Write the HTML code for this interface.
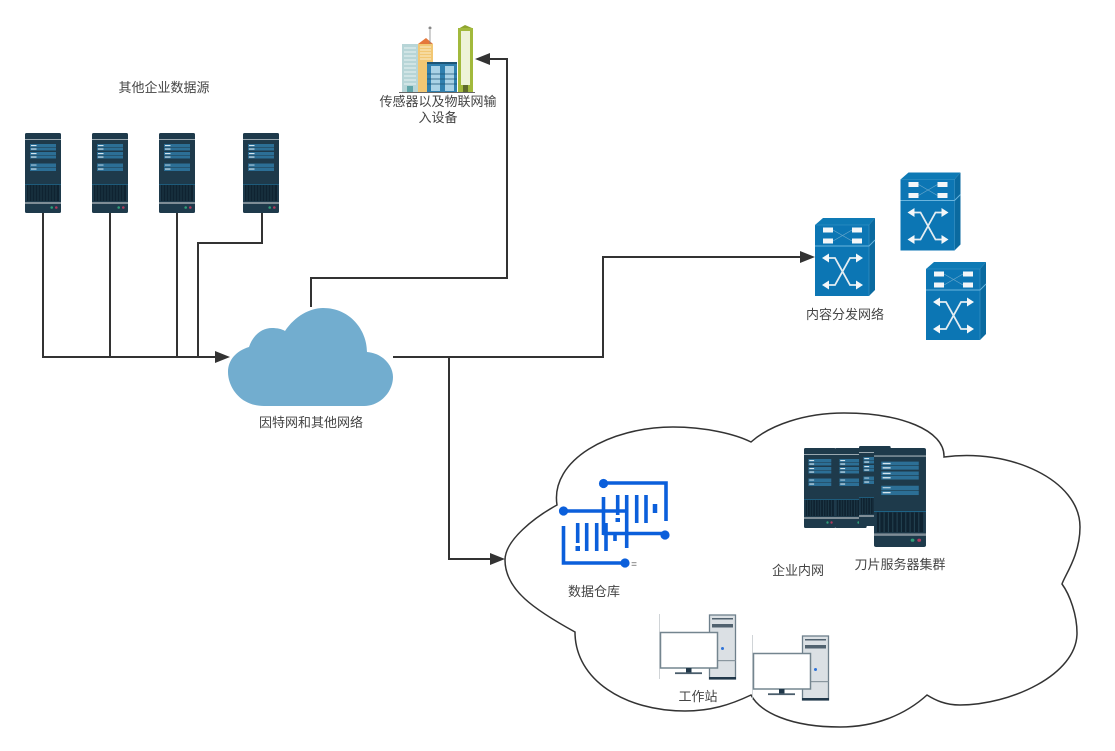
<!DOCTYPE html>
<html><head><meta charset="utf-8"><style>
html,body{margin:0;padding:0;background:#fff}
svg{display:block}
text{font-family:"Liberation Sans","Noto Sans CJK SC",sans-serif;font-size:13px;font-weight:400;fill:#444;text-anchor:middle;dominant-baseline:central}
</style></head><body>
<svg width="1115" height="751" viewBox="0 0 1115 751" xmlns="http://www.w3.org/2000/svg">
<defs>
<g id="srv">
<rect x="0" y="0" width="36" height="80" rx="1.5" fill="#1e3a4b"/>
<rect x="0" y="6" width="36" height="1" fill="#9aa8b0"/>
<rect x="5" y="11" width="26" height="3" fill="#2c6f96"/><rect x="5" y="14.500" width="26" height="3" fill="#2c6f96"/>
<rect x="5" y="19" width="26" height="3" fill="#2c6f96"/><rect x="5" y="22.500" width="26" height="3" fill="#2c6f96"/>
<rect x="5" y="30.500" width="26" height="3.500" fill="#2c6f96"/><rect x="5" y="34.500" width="26" height="3.500" fill="#2c6f96"/>
<rect x="6" y="12" width="5.500" height="1.100" fill="#d5e5ee"/><rect x="6" y="15.500" width="5.500" height="1.100" fill="#d5e5ee"/>
<rect x="6" y="20" width="5.500" height="1.100" fill="#d5e5ee"/><rect x="6" y="23.500" width="5.500" height="1.100" fill="#d5e5ee"/>
<rect x="6" y="31.500" width="5.500" height="1.100" fill="#a9c9dc"/><rect x="6" y="35.500" width="5.500" height="1.100" fill="#d5e5ee"/>
<rect x="0" y="51" width="36" height="0.700" fill="#1f6a90"/>
<rect x="2" y="52" width="32" height="16" fill="#0f2331"/>
<path d="M4 52v16M7 52v16M10 52v16M13 52v16M16 52v16M19 52v16M22 52v16M25 52v16M28 52v16M31 52v16" stroke="#22404f" stroke-width="0.800"/>
<rect x="0" y="69" width="36" height="2" fill="#7f8d96"/>
<circle cx="26.700" cy="74.500" r="1.300" fill="#2f9e78"/><circle cx="31.300" cy="74.500" r="1.300" fill="#b03a5c"/>
</g>
<g id="sw">
<path d="M0 7L8 0H60L54 7Z" fill="#0e7ab5"/>
<path d="M54 7L60 0V72L54 78Z" fill="#0a6aa0"/>
<rect x="0" y="7" width="54" height="71" fill="#0c76b4"/>
<path d="M54 7V78M0 7H54" stroke="#3f97c8" stroke-width="0.600" fill="none"/>
<path d="M0 28H54L60 22" stroke="#6ab5de" stroke-width="0.900" fill="none"/>
<path d="M18 12L37 23M18 23L37 12" stroke="#6aa8cc" stroke-width="0.700"/>
<rect x="8" y="9.500" width="10" height="5" fill="#f3f6f8"/><rect x="37" y="9.500" width="10" height="5" fill="#f3f6f8"/>
<rect x="8" y="20.500" width="10" height="5" fill="#f3f6f8"/><rect x="37" y="20.500" width="10" height="5" fill="#f3f6f8"/>
<path d="M11 40H20L35 67H44M44 40H35L20 67H11" stroke="#e4edf2" stroke-width="1.800" fill="none"/>
<path d="M7 40L14 35.500V44.500ZM48 40L41 35.500V44.500ZM7 67L14 62.500V71.500ZM48 67L41 62.500V71.500Z" fill="#f4f7f9"/>
</g>
<g id="ws">
<path d="M659.500 614V679" stroke="#c4cacd" stroke-width="0.800"/>
<rect x="709.500" y="615" width="26" height="64" fill="#dbe0e4" stroke="#6e7f8b" stroke-width="1.300"/>
<rect x="709" y="677" width="27" height="2.500" fill="#21384a"/>
<rect x="712" y="618" width="21" height="1.500" fill="#51626f"/>
<rect x="712" y="624" width="21" height="3.500" fill="#51626f"/>
<rect x="709.500" y="660" width="26" height="1.200" fill="#8a979f"/>
<circle cx="722.500" cy="648.500" r="1.500" fill="#2f73d8"/>
<rect x="660.500" y="632.500" width="57" height="35.500" fill="#fff" stroke="#74858f" stroke-width="1.500"/>
<rect x="686" y="668" width="5.500" height="5" fill="#21384a"/>
<rect x="675" y="672.300" width="27" height="1.800" fill="#4a5d6b"/>
</g>
</defs>

<use href="#srv" x="25" y="133"/><use href="#srv" x="92" y="133"/><use href="#srv" x="159" y="133"/><use href="#srv" x="243" y="133"/>

<g fill="none" stroke="#333" stroke-width="2">
<path d="M43 213V357H216M110 213V357M177 213V357M262 213V243H198V357"/>
<path d="M311 307V278H507V59H489"/>
<path d="M393 357H603V257H801"/>
<path d="M449 357V559H491"/>
</g>
<g fill="#333">
<path d="M215 351L230 357L215 363Z"/>
<path d="M475 59L490 53V65Z"/>
<path d="M815 257L800 251V263Z"/>
<path d="M505 559L490 553V565Z"/>
</g>

<path d="M264 406C240 406 228 387 228 372C228 360 236 351 249 347C253 335 262 328 272 328C277 328 282 329 285 331C295 316 310 308 323 308C350 308 367 330 367 352C382 353 393 365 393 377C393 392 380 406 364 406Z" fill="#72adcf"/>

<path d="M505 560C505 540 535 517 557 505C550 460 610 427 673 427C705 427 735 434 751 442C770 425 805 413 844 413C900 413 945 430 944 457C1010 448 1080 480 1080 527C1080 555 1065 575 1062 584C1070 595 1077 615 1077 633C1077 675 1010 705 960 705C945 705 935 700 927 695C905 715 875 727 840 727C790 727 760 712 751 695C730 705 710 711 685 711C625 711 575 680 575 632C535 610 505 590 505 560Z" fill="#fff" stroke="#333" stroke-width="1.500"/>

<!-- buildings -->
<rect x="402" y="44" width="16" height="48" fill="#b7d5d7"/>
<path d="M404 48H416M404 52H416M404 56H416M404 60H416M404 64H416M404 68H416M404 72H416M404 76H416M404 80H416M404 84H416" stroke="#dfeded" stroke-width="1.300"/>
<rect x="407" y="86" width="6" height="6" fill="#5fa5a8"/>
<rect x="418" y="44" width="15" height="48" fill="#f2c773"/>
<path d="M420 47H431M420 50H431M420 53H431M420 56H431M420 59H431" stroke="#fbeecb" stroke-width="1"/>
<path d="M418 44L426 38L433 44Z" fill="#e5773a"/>
<path d="M430 30V44" stroke="#888" stroke-width="0.800"/><circle cx="430" cy="28" r="1.500" fill="#888"/>
<rect x="427" y="63" width="30" height="29" fill="#2f7fae"/>
<rect x="427" y="62" width="30" height="2" fill="#1d5576"/>
<rect x="431" y="66" width="9" height="25" fill="#a9d2e6"/><rect x="445" y="66" width="9" height="25" fill="#a9d2e6"/>
<path d="M427 74H457M427 79H457M427 84H457" stroke="#1d5576" stroke-width="0.800"/>
<path d="M458 29L465 25L472 28V29Z" fill="#8fa52f"/>
<rect x="458" y="28" width="15" height="64" fill="#a2b93c"/>
<rect x="461" y="31" width="9" height="54" fill="#eef3d8"/>
<rect x="463" y="85" width="5" height="7" fill="#5e6a2b"/>
<path d="M399 92.500H475" stroke="#666" stroke-width="1"/>

<use href="#sw" x="815" y="218"/><use href="#sw" x="900.500" y="172.500"/><use href="#sw" x="926" y="262"/>

<!-- warehouse -->
<g fill="none" stroke="#0b5fdb" stroke-width="3.600">
<path d="M603 483H666V521"/>
<path d="M603.500 497V535M617.700 495V515M626.700 495V548M636.700 495V523M646 495V523"/>
<path d="M655 504V513" stroke-width="4.500"/>
<path d="M563 511H627"/>
<path d="M563.500 526V563H625"/>
<path d="M577.700 523V543M586.700 523V551M596.700 523V551M606 523V551M615 532V541"/>
<path d="M603 533.500H665"/>
</g>
<g fill="#0b5fdb">
<circle cx="603.500" cy="483.500" r="4.600"/><circle cx="563.500" cy="511" r="4.600"/><circle cx="665" cy="535" r="4.600"/><circle cx="625" cy="563" r="4.600"/>
<rect x="575.500" y="546" width="4.500" height="5"/><rect x="615.500" y="518" width="4.500" height="4"/>
</g>
<text x="634" y="565" style="font-size:10px;fill:#666">=</text>

<!-- blades -->
<g transform="translate(804,448) scale(.88,1)"><use href="#srv"/></g>
<g transform="translate(835,448) scale(.88,1)"><use href="#srv"/></g>
<g transform="translate(859,446) scale(.88,1)"><use href="#srv"/></g>
<g transform="translate(874,448) scale(1.444,1.2375)"><use href="#srv"/></g>

<use href="#ws"/><use href="#ws" x="93" y="21"/>

<text x="164" y="87.500">其他企业数据源</text>
<text x="438" y="101.500">传感器以及物联网输</text>
<text x="438" y="117.500">入设备</text>
<text x="311" y="422.500">因特网和其他网络</text>
<text x="845" y="314.500">内容分发网络</text>
<text x="594" y="591.500">数据仓库</text>
<text x="798" y="570.500">企业内网</text>
<text x="900" y="564.500">刀片服务器集群</text>
<text x="698" y="696.500">工作站</text>
</svg>
</body></html>
